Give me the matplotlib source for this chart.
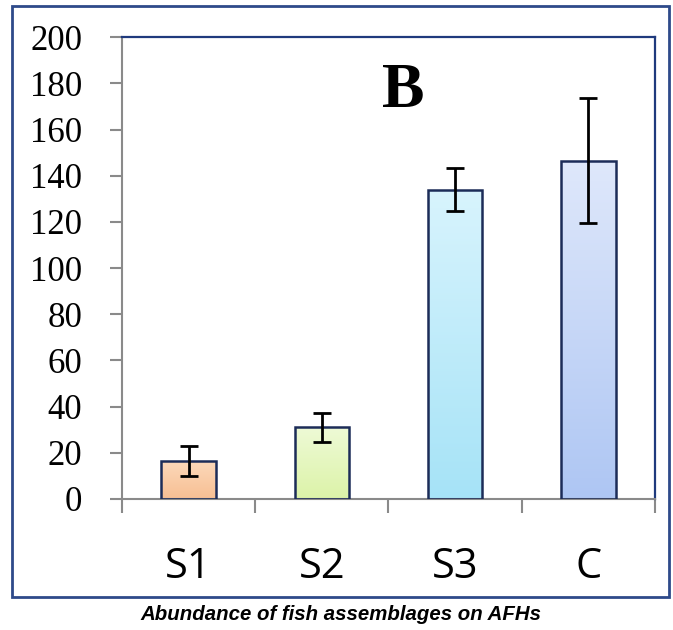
import numpy as np
import matplotlib
matplotlib.use("Agg")
import matplotlib.pyplot as plt
from matplotlib.colors import LinearSegmentedColormap
from matplotlib.patches import Rectangle

# Fish abundance per site (mean and standard error)
sites = ["S1", "S2", "S3", "C"]
abundance = [16.5, 31, 134, 146.5]
errors = [6.5, 6.3, 9.3, 27]
# top and bottom shades of each bar's fill
top_colors = ["#fcd9bb", "#eefad6", "#d8f4fd", "#dfe8fb"]
bottom_colors = ["#f7bf93", "#dcf3a8", "#a6e3f7", "#aec6f3"]

fig = plt.figure(figsize=(6.73, 6.30), dpi=100)
ax = fig.add_axes([0.1813, 0.208, 0.7917, 0.733])

x = np.arange(len(sites))
bars = ax.bar(x, abundance, width=0.41, color="none", edgecolor="#1c2c58",
              linewidth=1.8, zorder=3)

# vertical gradient fill clipped to each bar
grad = np.linspace(0, 1, 256).reshape(-1, 1)
for bar, c_top, c_bot in zip(bars, top_colors, bottom_colors):
    cmap = LinearSegmentedColormap.from_list("g", [c_bot, c_top])
    x0, w, h = bar.get_x(), bar.get_width(), bar.get_height()
    im = ax.imshow(grad, cmap=cmap, origin="lower", aspect="auto",
                   extent=[x0, x0 + w, 0, h], zorder=2)
    im.set_clip_path(bar)

ax.errorbar(x, abundance, yerr=errors, fmt="none", ecolor="black",
            elinewidth=2.0, capsize=6.2, capthick=2.0, zorder=4)

ax.set_xlim(-0.5, 3.5)
ax.set_ylim(0, 200)
ax.set_yticks(range(0, 201, 20))
ax.set_xticks(x)
ax.set_xticklabels(sites, family="Open Sans", fontsize=30)
ax.set_xticks(np.arange(-0.5, 4.0, 1), minor=True)
ax.tick_params(axis="x", which="major", length=0, pad=34)
ax.tick_params(axis="x", which="minor", length=10, width=1.5, color="#8a8a8a")
ax.tick_params(axis="y", length=8.6, width=1.5, color="#8a8a8a", pad=20)
for lab in ax.get_yticklabels():
    lab.set_family("Liberation Serif")
    lab.set_fontsize(25)

for side in ["left", "bottom"]:
    ax.spines[side].set_color("#8a8a8a")
    ax.spines[side].set_linewidth(1.5)
for side in ["top", "right"]:
    ax.spines[side].set_color("#1f3a7d")
    ax.spines[side].set_linewidth(1.6)

ax.text(0.527, 0.848, "B", transform=ax.transAxes, ha="center", va="baseline",
        family="Liberation Serif", fontweight="bold", fontsize=46)

# outer frame around the whole chart
fig.patches.append(Rectangle((12 / 673, 1 - 597 / 630), 657 / 673, 591 / 630,
                             transform=fig.transFigure, fill=False,
                             edgecolor="#2e4a8a", linewidth=2))

fig.text(341 / 673, 1 - 614 / 630, "Abundance of fish assemblages on AFHs",
         ha="center", va="center", fontsize=14.7, fontweight="bold",
         style="italic", family="Liberation Sans")

fig.savefig("out.png", dpi=100)
